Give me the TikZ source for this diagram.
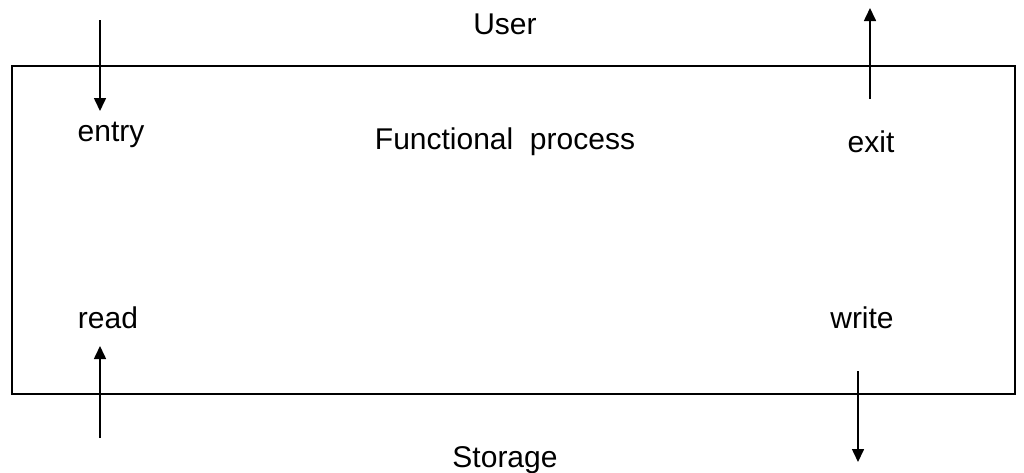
\documentclass[tikz,border=0pt]{standalone}
\usepackage{fontspec}
\setmainfont{Liberation Sans}
\usetikzlibrary{arrows.meta}
\begin{document}
\begin{tikzpicture}[x=1pt,y=-1pt,
  lbl/.style={font=\fontsize{30}{36}\selectfont, inner sep=0pt, anchor=center},
  flow/.style={line width=1.6pt, -{Triangle[length=13pt,width=12pt]}},
  frame/.style={draw, line width=1.6pt}]
\useasboundingbox (0,0) rectangle (1024,472);
% process boundary
\node[frame, minimum width=1003pt, minimum height=328pt, inner sep=0pt] (box) at (513.5,230) {};
% labels
\node[lbl] (user) at (505,24) {User};
\node[lbl] (fp) at (505,142) {Functional\ \ process};
\node[lbl] (entry) at (111,135) {entry};
\node[lbl] (exit) at (871,142) {exit};
\node[lbl] (read) at (108,318) {read};
\node[lbl] (write) at (862,318) {write};
\node[lbl] (storage) at (505,460) {Storage};
% arrow end points
\coordinate (entryS) at (100,20);
\coordinate (entryT) at (100,111);
\coordinate (exitS) at (870,99);
\coordinate (exitT) at (870,8);
\coordinate (readS) at (100,438);
\coordinate (readT) at (100,346);
\coordinate (writeS) at (858,371);
\coordinate (writeT) at (858,462);
\draw[flow] (entryS) -- (entryT);
\draw[flow] (exitS) -- (exitT);
\draw[flow] (readS) -- (readT);
\draw[flow] (writeS) -- (writeT);
\end{tikzpicture}
\end{document}
